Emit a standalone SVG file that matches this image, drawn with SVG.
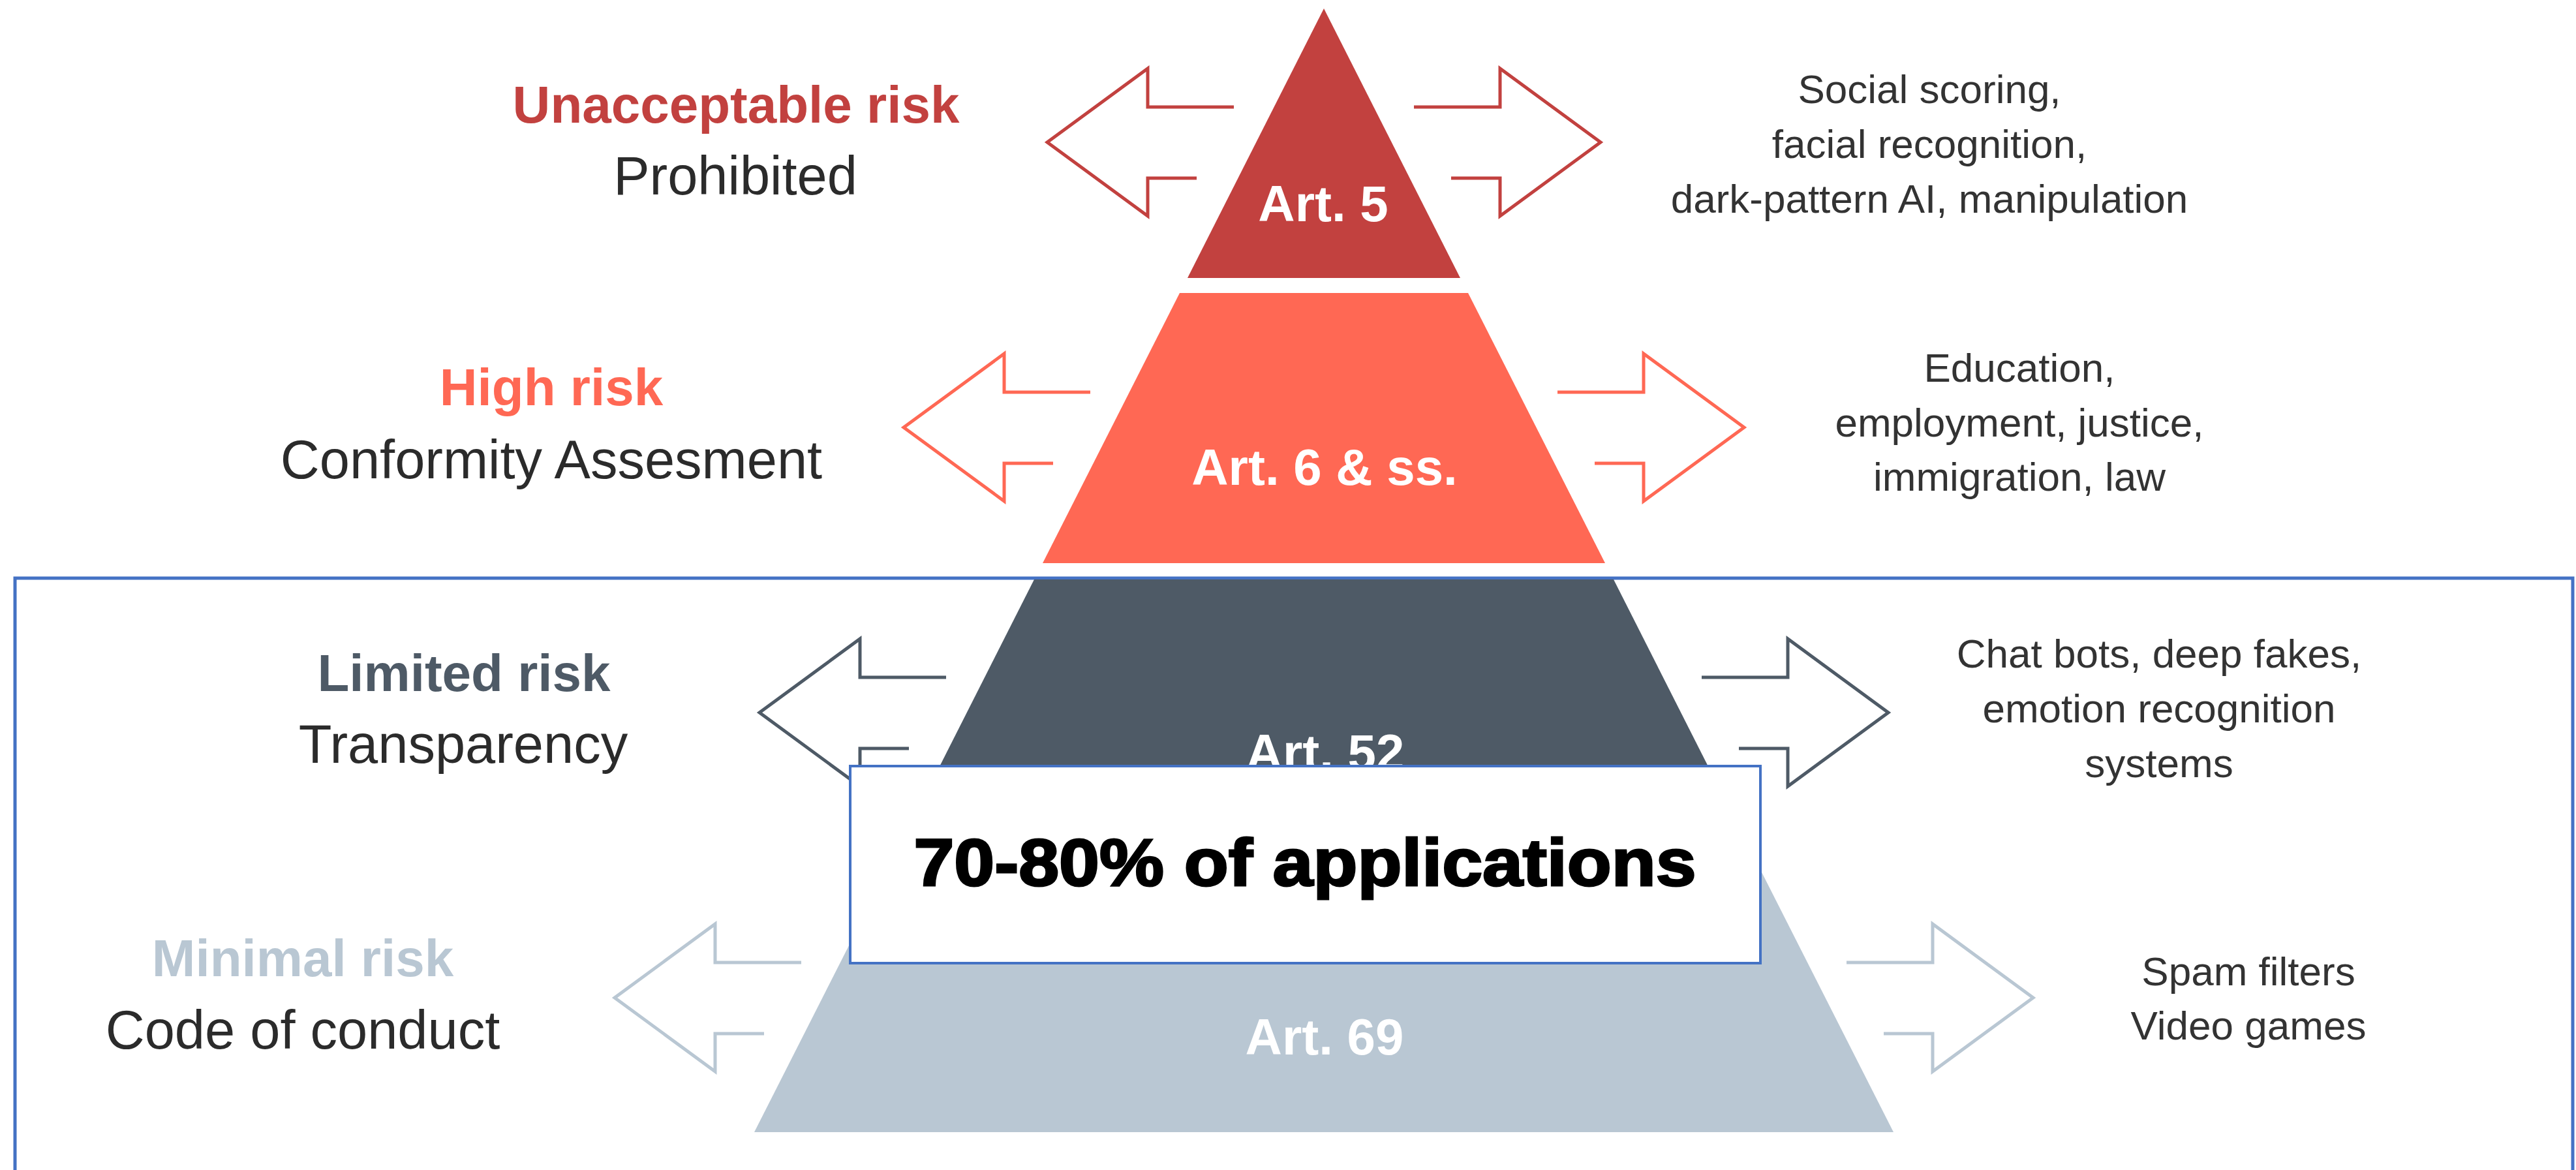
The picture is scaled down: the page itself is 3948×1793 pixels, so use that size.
<svg xmlns="http://www.w3.org/2000/svg" width="3948" height="1793" viewBox="0 0 3948 1793">
<style>
.title{font-family:"Liberation Sans",Arial,sans-serif;font-weight:bold;font-size:80px;text-anchor:middle}
.sub{font-family:"Liberation Sans",Arial,sans-serif;font-size:83px;fill:#2b2b2b;text-anchor:middle}
.ex{font-family:"Liberation Sans",Arial,sans-serif;font-size:62px;fill:#333333;text-anchor:middle}
.art{font-family:"Liberation Sans",Arial,sans-serif;font-weight:bold;font-size:78px;fill:#ffffff;text-anchor:middle}
.arr{fill:none;stroke-width:5;stroke-linejoin:miter}
</style>
<rect width="3948" height="1793" fill="#ffffff"/>
<path d="M23,1800 V886 H3943 V1800" fill="none" stroke="#4472C4" stroke-width="5"/>
<g id="layer-unacceptable">
<polygon points="2029,13 2238,426 1820,426" fill="#C2413F"/>
<text class="art" x="2028" y="339">Art. 5</text>
<text class="title" x="1128" y="188" fill="#C2413F">Unacceptable risk</text>
<text class="sub" x="1127" y="298">Prohibited</text>
<text class="ex" x="2957" y="158">Social scoring,</text>
<text class="ex" x="2957" y="242">facial recognition,</text>
<text class="ex" x="2957" y="326">dark-pattern AI, manipulation</text>
</g>
<g id="layer-high">
<polygon points="1808,449 2250,449 2460,863 1598,863" fill="#FF6854"/>
<text class="art" x="2030" y="743">Art. 6 &amp; ss.</text>
<text class="title" x="845" y="621" fill="#FF6854">High risk</text>
<text class="sub" x="845" y="733">Conformity Assesment</text>
<text class="ex" x="3095" y="585">Education,</text>
<text class="ex" x="3095" y="669">employment, justice,</text>
<text class="ex" x="3095" y="752">immigration, law</text>
</g>
<g id="layer-limited">
<polygon points="1585,888 2473,888 2682,1301 1376,1301" fill="#4E5A66"/>
<text class="art" x="2031" y="1180">Art. 52</text>
<text class="title" x="711" y="1059" fill="#4E5A66">Limited risk</text>
<text class="sub" x="710" y="1169">Transparency</text>
<text class="ex" x="3309" y="1023">Chat bots, deep fakes,</text>
<text class="ex" x="3309" y="1107">emotion recognition</text>
<text class="ex" x="3309" y="1191">systems</text>
</g>
<g id="layer-minimal">
<polygon points="1365,1323 2693,1323 2902,1735 1156,1735" fill="#B9C7D3"/>
<text class="art" x="2030" y="1616">Art. 69</text>
<text class="title" x="464" y="1496" fill="#B9C7D3">Minimal risk</text>
<text class="sub" x="464" y="1607">Code of conduct</text>
<text class="ex" x="3446" y="1510">Spam filters</text>
<text class="ex" x="3446" y="1593">Video games</text>
</g>
<g id="connectors">
<path class="arr" stroke="#C2413F" d="M1891,164 H1759 V105 L1605,218 L1759,331 V273 H1834"/>
<path class="arr" stroke="#C2413F" d="M2167,164 H2299 V105 L2453,218 L2299,331 V273 H2224"/>
<path class="arr" stroke="#FF6854" d="M1671,601 H1539 V542 L1385,655 L1539,768 V710 H1614"/>
<path class="arr" stroke="#FF6854" d="M2387,601 H2519 V542 L2673,655 L2519,768 V710 H2444"/>
<path class="arr" stroke="#4E5A66" d="M1450,1038 H1318 V979 L1164,1092 L1318,1205 V1147 H1393"/>
<path class="arr" stroke="#4E5A66" d="M2608,1038 H2740 V979 L2894,1092 L2740,1205 V1147 H2665"/>
<path class="arr" stroke="#B9C7D3" d="M1228,1475 H1096 V1416 L942,1529 L1096,1642 V1584 H1171"/>
<path class="arr" stroke="#B9C7D3" d="M2830,1475 H2962 V1416 L3116,1529 L2962,1642 V1584 H2887"/>
</g>
<g id="share-box">
<rect x="1303" y="1174" width="1395" height="302" fill="#ffffff" stroke="#4472C4" stroke-width="4"/>
<text x="2000" y="1357" font-family="'Liberation Sans',Arial,sans-serif" font-weight="bold" font-size="102" fill="#000000" stroke="#000000" stroke-width="3" text-anchor="middle" textLength="1199" lengthAdjust="spacingAndGlyphs">70-80% of applications</text>
</g>
</svg>
